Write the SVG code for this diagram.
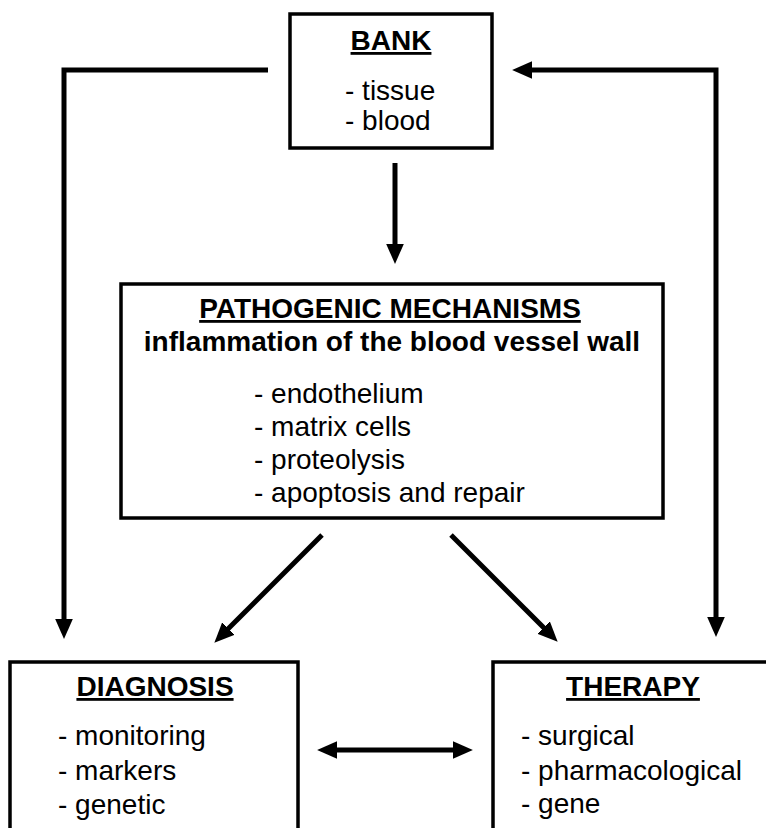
<svg xmlns="http://www.w3.org/2000/svg" width="766" height="828" viewBox="0 0 766 828">
  <style>
    .box { fill: #ffffff; stroke: #000000; stroke-width: 3.5; }
    .conn { fill: none; stroke: #000000; stroke-width: 5; stroke-linejoin: miter; }
    text { font-family: "Liberation Sans", Arial, sans-serif; fill: #000000; font-size: 28px; }
    .title { font-weight: bold; text-anchor: middle; text-decoration: underline; }
    .sub { font-weight: bold; text-anchor: middle; }
  </style>
  <defs>
    <marker id="ah" markerUnits="userSpaceOnUse" markerWidth="20" markerHeight="20" viewBox="0 0 18 18" refX="1" refY="9" orient="auto-start-reverse">
      <path d="M0,1 L18,9 L0,17 z" fill="#000000"/>
    </marker>
  </defs>
  <rect width="766" height="828" fill="#ffffff"/>

  <g id="connectors">
    <path class="conn" d="M268,70 H64 V620" marker-end="url(#ah)"/>
    <path class="conn" d="M531,70 H716 V618" marker-start="url(#ah)" marker-end="url(#ah)"/>
    <path class="conn" d="M395,163 V245" marker-end="url(#ah)"/>
    <path class="conn" d="M322,535 L227.7,629.3" marker-end="url(#ah)"/>
    <path class="conn" d="M451,535 L544.3,628.3" marker-end="url(#ah)"/>
    <path class="conn" d="M336,750 H454" marker-start="url(#ah)" marker-end="url(#ah)"/>
  </g>

  <g id="bank">
    <rect class="box" x="290" y="14" width="202" height="134"/>
    <text class="title" x="391" y="50">BANK</text>
    <text x="345" y="100">- tissue</text>
    <text x="345" y="130">- blood</text>
  </g>

  <g id="pathogenic">
    <rect class="box" x="121" y="284" width="542" height="234"/>
    <text class="title" x="390" y="318">PATHOGENIC MECHANISMS</text>
    <text class="sub" x="392" y="351">inflammation of the blood vessel wall</text>
    <text x="254" y="403">- endothelium</text>
    <text x="254" y="436">- matrix cells</text>
    <text x="254" y="469">- proteolysis</text>
    <text x="254" y="502">- apoptosis and repair</text>
  </g>

  <g id="diagnosis">
    <rect class="box" x="10" y="662" width="288" height="168"/>
    <text class="title" x="155" y="696">DIAGNOSIS</text>
    <text x="58" y="745">- monitoring</text>
    <text x="58" y="780">- markers</text>
    <text x="58" y="814">- genetic</text>
  </g>

  <g id="therapy">
    <rect class="box" x="493" y="662" width="290" height="168"/>
    <text class="title" x="633" y="696">THERAPY</text>
    <text x="521" y="745">- surgical</text>
    <text x="521" y="780">- pharmacological</text>
    <text x="521" y="813">- gene</text>
  </g>
</svg>
